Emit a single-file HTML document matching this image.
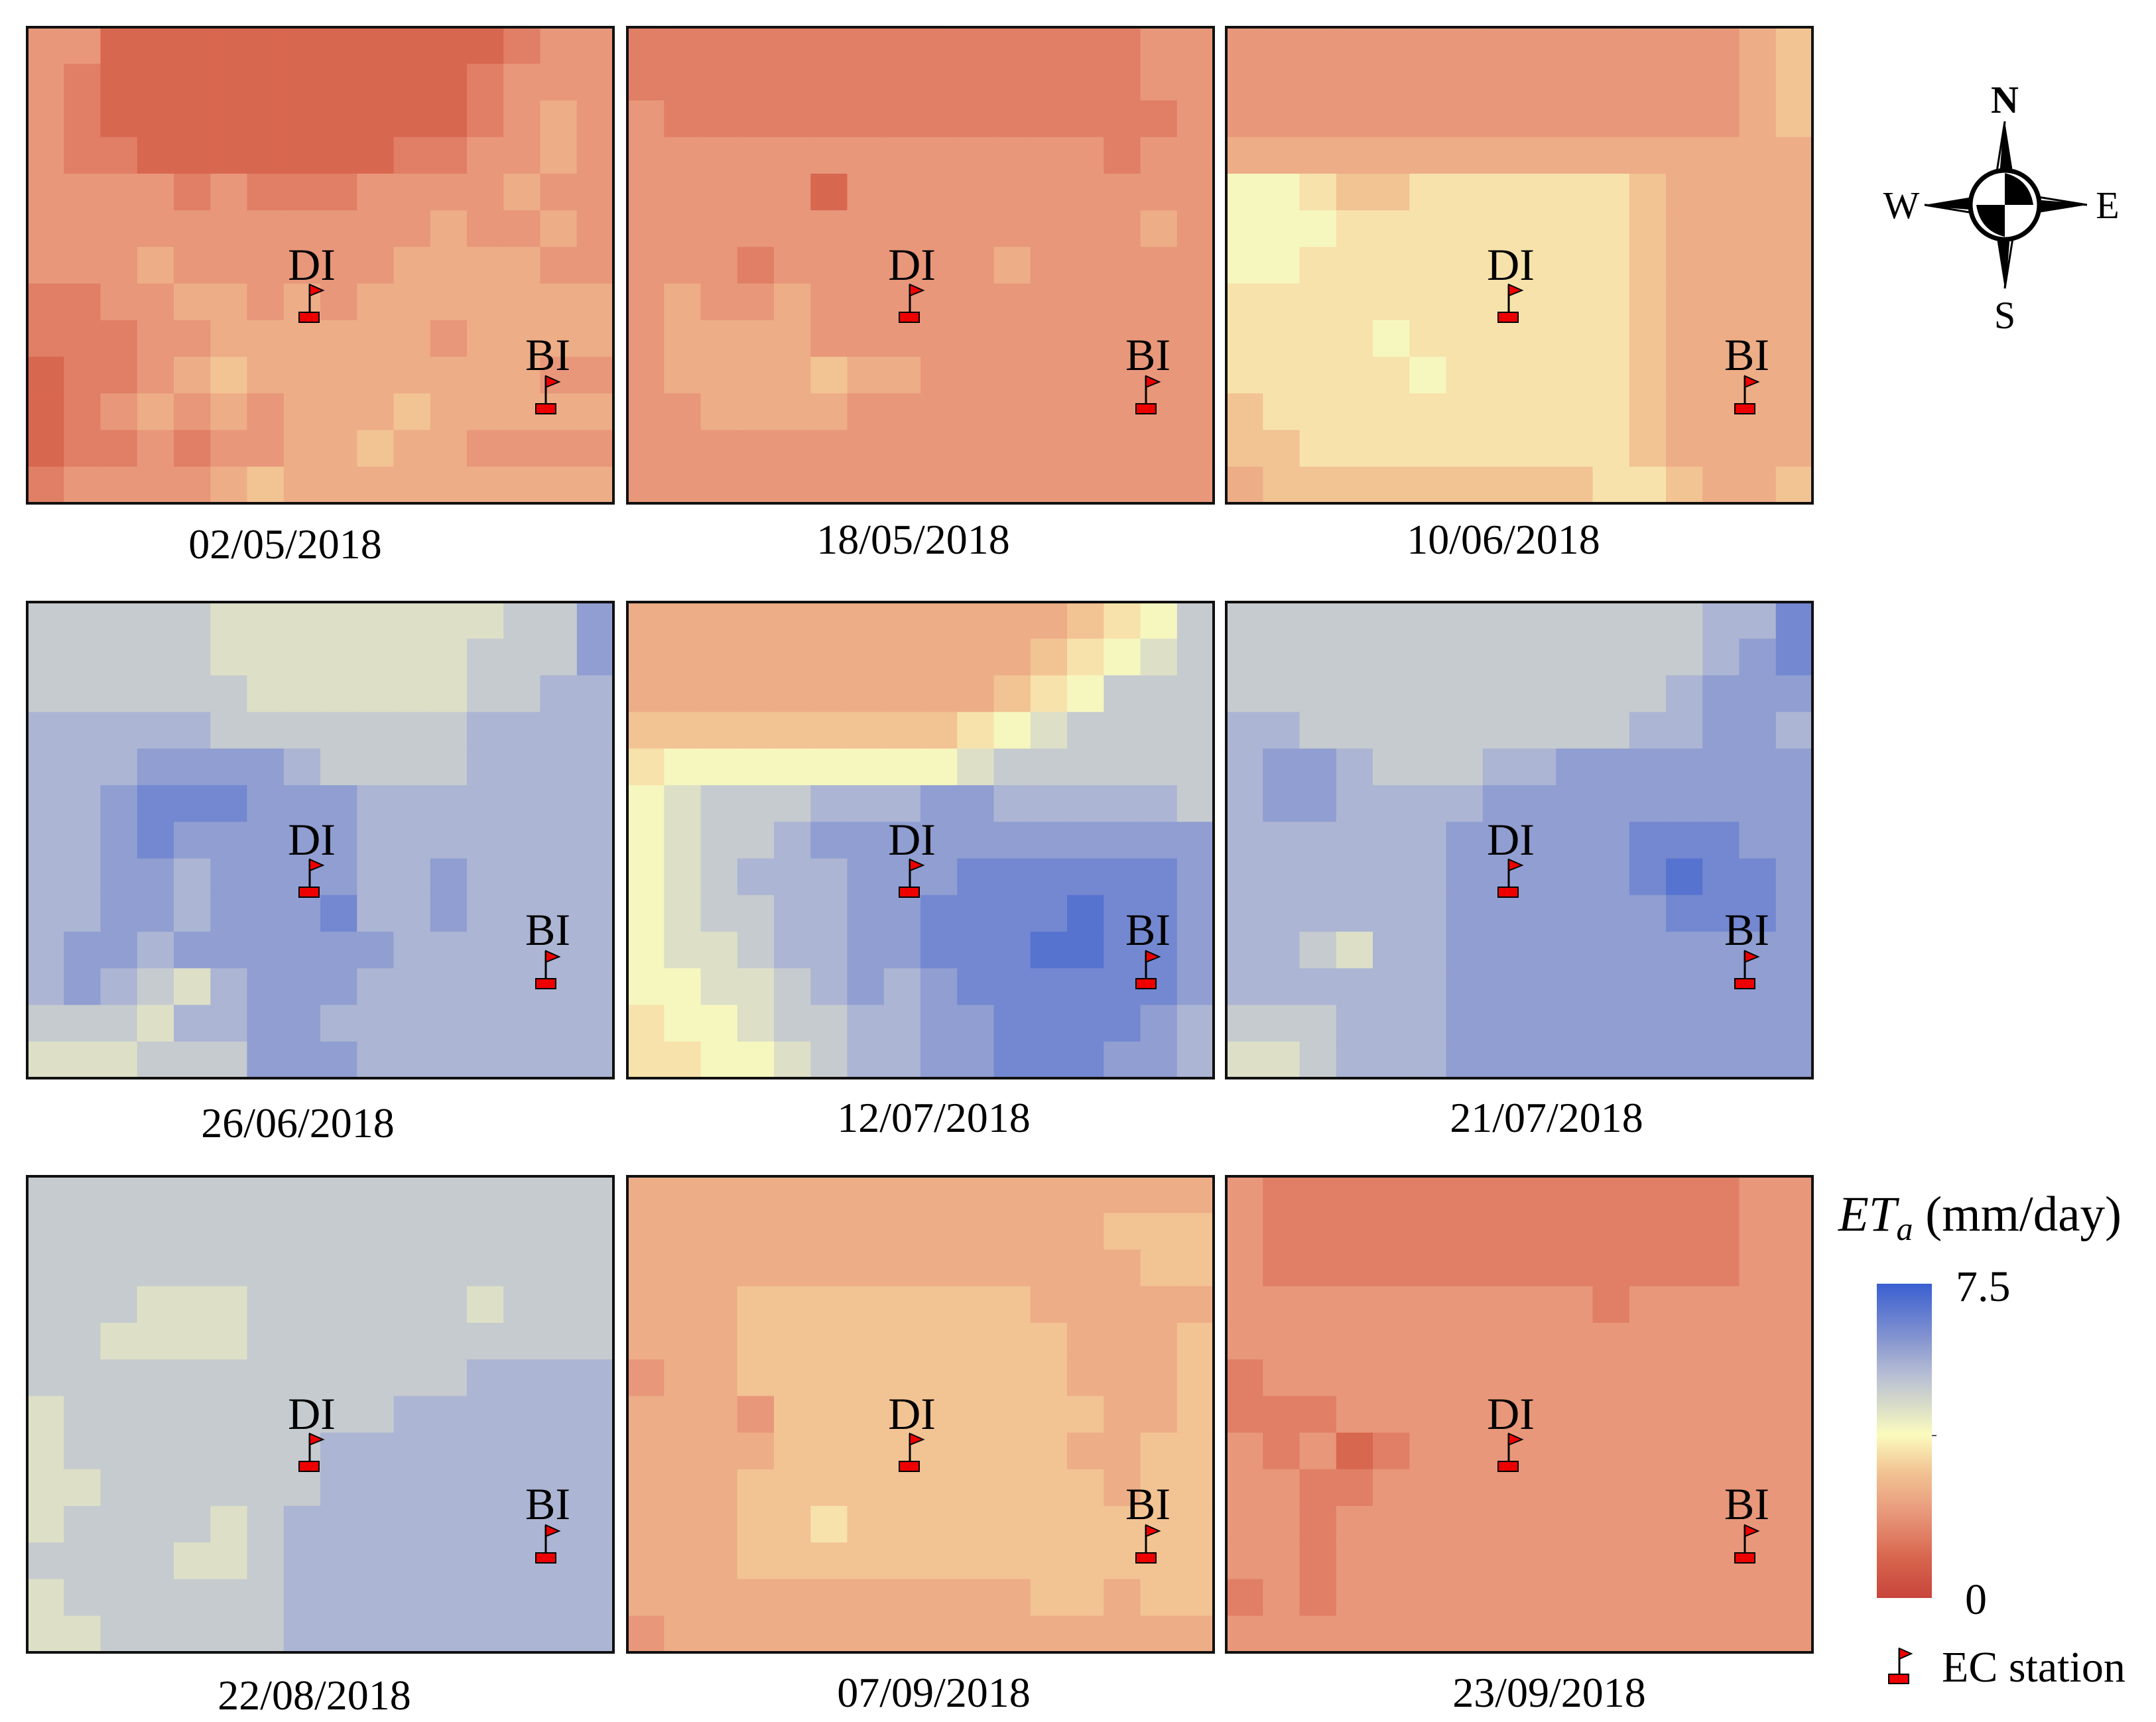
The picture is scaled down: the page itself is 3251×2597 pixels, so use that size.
<!DOCTYPE html>
<html><head><meta charset="utf-8"><style>
html,body{margin:0;padding:0;background:#fff;}
svg{display:block;font-family:"Liberation Serif",serif;}
</style></head><body>
<svg id="fig" width="3251" height="2597" viewBox="0 0 3251 2597" xmlns="http://www.w3.org/2000/svg">
<defs>
<linearGradient id="cbar" x1="0" y1="1" x2="0" y2="0">
<stop offset="0" stop-color="#c8453b"/><stop offset="0.133" stop-color="#d8674f"/><stop offset="0.267" stop-color="#e8977a"/><stop offset="0.4" stop-color="#f2c393"/><stop offset="0.52" stop-color="#fbfbbe"/><stop offset="0.613" stop-color="#d8dcc8"/><stop offset="0.707" stop-color="#b8bfd4"/><stop offset="0.827" stop-color="#8494d0"/><stop offset="1" stop-color="#3a5fd0"/>
</linearGradient>
</defs>
<g id="panels"></g>
<g id="compass">
 <polygon points="3023,183 3043,309 3003,309" fill="#000"/>
 <polygon points="3023,183 3003,309 3013,309" fill="#fff" stroke="#000" stroke-width="3"/>
 <polygon points="3023,435 3003,309 3043,309" fill="#000"/>
 <polygon points="3023,435 3043,309 3033,309" fill="#fff" stroke="#000" stroke-width="3"/>
 <polygon points="2902,309 3023,289 3023,329" fill="#000"/>
 <polygon points="2902,309 3023,329 3023,319" fill="#fff" stroke="#000" stroke-width="3"/>
 <polygon points="3147,309 3023,329 3023,289" fill="#000"/>
 <polygon points="3147,309 3023,289 3023,299" fill="#fff" stroke="#000" stroke-width="3"/>
 <circle cx="3023" cy="309" r="52" fill="#fff" stroke="#000" stroke-width="7"/>
 <path d="M3023,309 L3023,261 Q3060,270 3066,309 Z" fill="#000"/>
 <path d="M3023,309 L3023,357 Q2986,348 2980,309 Z" fill="#000"/>
 <text x="3023" y="170" font-size="58" font-weight="bold" text-anchor="middle">N</text>
 <text x="3023" y="495" font-size="58" text-anchor="middle">S</text>
 <text x="2867" y="329" font-size="58" text-anchor="middle">W</text>
 <text x="3178" y="329" font-size="58" text-anchor="middle">E</text>
</g>
<g id="legend">
 <text x="2772" y="1856" font-size="75"><tspan font-style="italic">ET</tspan><tspan font-style="italic" font-size="50" dy="14">a</tspan><tspan dy="-14"> (mm/day)</tspan></text>
 <rect x="2830" y="1936" width="83" height="474" fill="url(#cbar)"/>
 <line x1="2913" y1="2165" x2="2920" y2="2165" stroke="#555" stroke-width="2"/>
 <text x="2949" y="1962" font-size="66">7.5</text>
 <text x="2963" y="2434" font-size="66">0</text>
 <g>
  <line x1="2864" y1="2486" x2="2864" y2="2527" stroke="#000" stroke-width="3"/>
  <polygon points="2864,2486 2882,2494 2864,2502" fill="#e00" stroke="#000" stroke-width="2"/>
  <rect x="2848" y="2525" width="30" height="14" fill="#e00" stroke="#000" stroke-width="2"/>
 </g>
 <text x="2928" y="2536" font-size="66">EC station</text>
</g>
</svg>
<script>
// Panel dates and ET grids (letters a..p => ET = index*0.5 mm/day)
const dates = ["02/05/2018","18/05/2018","10/06/2018","26/06/2018","12/07/2018","21/07/2018","22/08/2018","07/09/2018","23/09/2018"];
const levelScale = 0.5;
const etGrid1 = ["eecccccccccccdee","edccccccccccdeee","edccccccccccdefe","eddcccccccddeefe","eeeededddeeeefee","eeeeeeeeeeefeefe","eeefeeeeeeffffe","ddeeffefefffffff","dddeeffffffeffff","cddefgffffffffe","cdefefefffgfffff","cddedeeffgffeeee","deeeefgfffffffffe"];
const etGrid2 = ["ddddddddddddddee","ddddddddddddddee","edddddddddddddde","eeeeeeeeeeeeedee","eeeeeceeeeeeeeee","eeeeeeeeeeeeeefe","eeedeeeeeefeeeee","efeefeeeeeeeeeee","effffeeeeeeeeeee","effffgffeeeeeeeee","eeffffeeeeeeeeee","eeeeeeeeeeeeeeee","eeeeeeeeeeeeeeee"];
const etGrid3 = ["eeeeeeeeeeeeeefg","eeeeeeeeeeeeeefg","eeeeeeeeeeeeeefg","ffffffffffffffff","iihgghhhhhhgffff","iiihhhhhhhhgffff","iihhhhhhhhhgffff","hhhhhhhhhhhgffff","hhhhihhhhhhgffff","hhhhhihhhhhgffff","ghhhhhhhhhhgffff","gghhhhhhhhhgffff","fggggggggghhgffgh"];
const etGrid4 = ["kkkkkjjjjjjjjkkm","kkkkkjjjjjjjkkkm","kkkkkkjjjjjjkkll","lllllkkkkkkkllll","lllmmmmlkkkkllll","llmnnnmmmlllllll","llmnmmmmmlllllll","llmmlmmmmllmllll","llmmlmmmnllmllll","lmmlmmmmmmllllll","lmlkjlmmmlllllll","kkkjllmmllllllll","jjjkkkmmmlllllll"];
const etGrid5 = ["ffffffffffffghik","fffffffffffghijk","ffffffffffghikkk","ggggggggghijkkkk","hiiiiiiiijkkkkkk","ijkkklllmmlllllk","ijkklmmmmmmmmmmm","ijklllmmmnnnnnnm","ijkkllmmnnnnonnm","ijjkllmmnnnoonnm","iijjklmlmnnnnnnm","hiijkkllmmnnnnml","hhiijkllmmnnnmml"];
const etGrid6 = ["kkkkkkkkkkkkklln","kkkkkkkkkkkkklmn","kkkkkkkkkkkklmmm","llkkkkkkkkkllmml","lmmlkkkllmmmmmmm","lmmllllmmmmmmmmm","llllllmmmmmnnnmm","llllllmmmmmnonnm","llllllmmmmmmnnnm","llkjllmmmmmmmmmm","llllllmmmmmmmmmm","kkklllmmmmmmmmmm","jjklllmmmmmmmmmm"];
const etGrid7 = ["kkkkkkkkkkkkkkkk","kkkkkkkkkkkkkkkk","kkkkkkkkkkkkkkkk","kkkjjjkkkkkkjkkk","kkjjjjkkkkkkkkkk","kkkkkkkkkkkkllll","jkkkkkkkkkllllll","jkkkkkkkllllllll","jjkkkkkkllllllll","jkkkkjklllllllll","kkkkjjklllllllll","jkkkkkklllllllll","jjkkkkklllllllll"];
const etGrid8 = ["ffffffffffffffff","fffffffffffffggg","ffffffffffffffgg","fffggggggggfffff","fffgggggggggfffg","effgggggggggfffg","fffegggggggggffgg","ffffggggggggffgg","fffggggggggggfgg","fffgghgggggggggg","fffggggggggggggg","fffffffffffggfgg","efffffffffffffff"];
const etGrid9 = ["eddddddddddddde","eddddddddddddde","edddddddddddddee","eeeeeeeeeedeeeee","eeeeeeeeeeeeeeee","deeeeeeeeeeeeeee","dddeeeeeeeeeeeee","edecdeeeeeeeeeee","eeddeeeeeeeeeeee","eedeeeeeeeeeeeee","eedeeeeeeeeeeeee","dedeeeeeeeeeeeee","eeeeeeeeeeeeeeee"];
const grids = [etGrid1,etGrid2,etGrid3,etGrid4,etGrid5,etGrid6,etGrid7,etGrid8,etGrid9];
const cmapVals = [0,1.0,2.0,3.0,3.9,4.6,5.3,6.2,7.5];
const cmapCols = ["#c8453b","#d8674f","#e8977a","#f2c393","#fbfbbe","#d8dcc8","#b8bfd4","#8494d0","#3a5fd0"];

function hex(c){return [1,3,5].map(i=>parseInt(c.substr(i,2),16));}
function color(v){
  if(v<=cmapVals[0]) return cmapCols[0];
  for(let i=1;i<cmapVals.length;i++){
    if(v<=cmapVals[i]){
      const t=(v-cmapVals[i-1])/(cmapVals[i]-cmapVals[i-1]);
      const a=hex(cmapCols[i-1]),b=hex(cmapCols[i]);
      return "rgb("+a.map((x,k)=>Math.round(x+(b[k]-x)*t)).join(",")+")";
    }
  }
  return cmapCols[cmapCols.length-1];
}
const NS="http://www.w3.org/2000/svg";
const colX=[41,946,1849], rowY=[41,908,1774], PW=884, PH=718;
const labelX=[[430,1377,2267],[449,1408,2332],[474,1408,2336]];
const labelY=[[842,835,835],[1715,1707,1707],[2578,2574,2574]];
const root=document.getElementById("panels");
function mk(tag,attrs,parent){const e=document.createElementNS(NS,tag);for(const k in attrs)e.setAttribute(k,attrs[k]);parent.appendChild(e);return e;}
function station(g,px,py,bx,label,lx,ly,name){
  const s=mk("g",{},g);
  
  
  mk("line",{x1:px,y1:py,x2:px,y2:py+42,stroke:"#000","stroke-width":3},s);
  mk("polygon",{points:`${px},${py} ${px+20},${py+9} ${px},${py+17}`,fill:"#e00",stroke:"#000","stroke-width":2},s);
  mk("rect",{x:bx,y:py+42,width:30,height:15,fill:"#e00",stroke:"#000","stroke-width":2},s);
  const t=mk("text",{x:lx,y:ly,"font-size":68,"text-anchor":"middle"},s);
  t.textContent=label;
}
grids.forEach((grid,p)=>{
  const r=Math.floor(p/3),c=p%3;
  const x0=colX[c],y0=rowY[r];
  const g=mk("g",{},root);
  
  
  const nr=grid.length, nc=16;
  const cw=PW/nc, ch=PH/nr;
  grid.forEach((row,i)=>{
    for(let j=0;j<nc;j++){
      const ch_=row[j]||row[row.length-1];
      const v=(ch_.charCodeAt(0)-97)*levelScale;
      const cell=mk("rect",{x:(x0+j*cw).toFixed(1),y:(y0+i*ch).toFixed(1),width:(cw+0.8).toFixed(1),height:(ch+0.8).toFixed(1),fill:color(v)},g);
      
      
    }
  });
  const fr=mk("rect",{x:x0,y:y0,width:PW,height:PH,fill:"none",stroke:"#111","stroke-width":4},g);
  
  
  station(g,x0+426,y0+388,x0+410,"DI",x0+429,y0+381,'di-station-marker');
  station(g,x0+782,y0+526,x0+767,"BI",x0+785,y0+517,'bi-station-marker');
  const lt=mk("text",{x:labelX[r][c],y:labelY[r][c],"font-size":64,"text-anchor":"middle"},root);
  
  
  lt.textContent=dates[p];
});
</script>
</body></html>
